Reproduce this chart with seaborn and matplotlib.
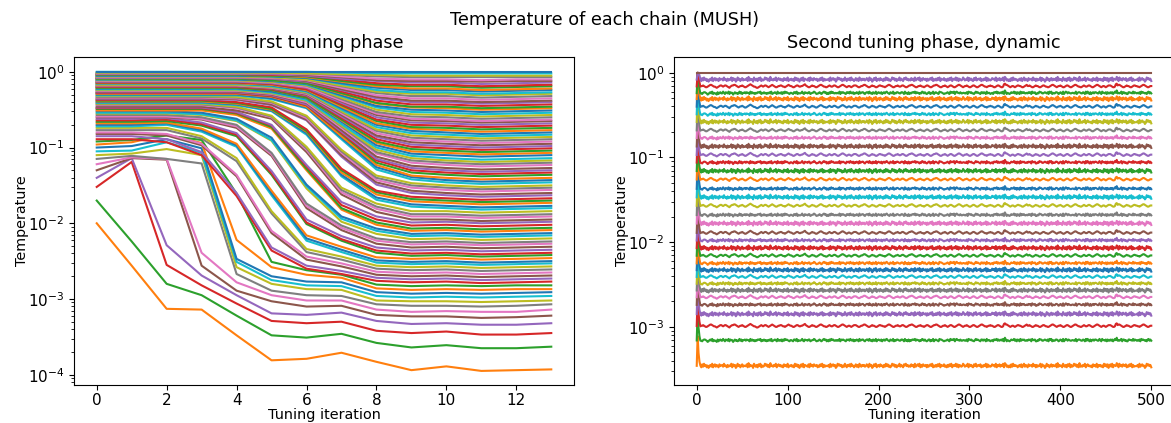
import matplotlib
matplotlib.use("Agg")
import matplotlib.pyplot as plt
import numpy as np
import pandas as pd
import seaborn as sns

# ---------------- data: first tuning phase (log10 temperature, iterations 0..13) ----------------
phase1_iterations = list(range(14))
phase1_xticks = [0, 2, 4, 6, 8, 10, 12]

phase1_chains_01_12 = [
    [-2.00, -2.56, -3.13, -3.14, -3.48, -3.81, -3.79, -3.71, -3.83, -3.94, -3.89, -3.95, -3.94, -3.93],
    [-1.70, -2.24, -2.80, -2.95, -3.22, -3.48, -3.51, -3.46, -3.58, -3.64, -3.61, -3.65, -3.65, -3.63],
    [-1.52, -1.19, -2.55, -2.82, -3.06, -3.29, -3.32, -3.30, -3.42, -3.45, -3.43, -3.47, -3.47, -3.45],
    [-1.40, -1.14, -2.29, -2.69, -2.95, -3.19, -3.21, -3.18, -3.29, -3.33, -3.32, -3.34, -3.34, -3.32],
    [-1.30, -1.14, -1.16, -2.56, -2.89, -3.03, -3.10, -3.09, -3.21, -3.23, -3.23, -3.25, -3.24, -3.22],
    [-1.22, -1.13, -1.15, -2.39, -2.78, -2.95, -3.02, -3.02, -3.14, -3.17, -3.16, -3.17, -3.17, -3.14],
    [-1.15, -1.11, -1.15, -1.21, -2.67, -2.89, -2.95, -2.96, -3.07, -3.09, -3.09, -3.10, -3.09, -3.07],
    [-1.10, -1.08, -1.02, -1.10, -2.58, -2.80, -2.87, -2.88, -3.02, -3.03, -3.03, -3.04, -3.03, -3.02],
    [-1.05, -1.04, -0.93, -1.07, -2.51, -2.75, -2.82, -2.83, -2.96, -2.98, -2.97, -2.98, -2.97, -2.96],
    [-1.00, -0.98, -0.89, -1.01, -2.47, -2.70, -2.77, -2.78, -2.91, -2.93, -2.92, -2.93, -2.92, -2.91],
    [-0.96, -0.93, -0.83, -0.94, -2.22, -2.58, -2.68, -2.72, -2.86, -2.88, -2.87, -2.88, -2.87, -2.87],
    [-0.92, -0.90, -0.84, -0.90, -1.61, -2.51, -2.62, -2.68, -2.81, -2.83, -2.82, -2.83, -2.82, -2.82],
]

phase1_chains_13_30 = [
    [-0.89, -0.89, -0.93, -1.10, -1.64, -2.36, -2.60, -2.67, -2.76, -2.78, -2.77, -2.79, -2.78, -2.77],
    [-0.85, -0.85, -0.89, -1.06, -1.60, -2.32, -2.56, -2.63, -2.72, -2.74, -2.73, -2.75, -2.74, -2.73],
    [-0.82, -0.82, -0.84, -0.97, -1.38, -2.13, -2.48, -2.57, -2.68, -2.70, -2.69, -2.71, -2.70, -2.69],
    [-0.80, -0.80, -0.82, -0.95, -1.36, -2.10, -2.44, -2.53, -2.64, -2.66, -2.65, -2.67, -2.66, -2.65],
    [-0.77, -0.77, -0.77, -0.88, -1.18, -1.87, -2.38, -2.48, -2.60, -2.62, -2.61, -2.63, -2.62, -2.61],
    [-0.74, -0.74, -0.74, -0.85, -1.14, -1.84, -2.34, -2.44, -2.56, -2.58, -2.57, -2.59, -2.58, -2.57],
    [-0.72, -0.72, -0.70, -0.79, -0.99, -1.63, -2.23, -2.38, -2.52, -2.54, -2.53, -2.55, -2.54, -2.53],
    [-0.70, -0.70, -0.68, -0.77, -0.97, -1.60, -2.20, -2.35, -2.49, -2.51, -2.50, -2.52, -2.51, -2.50],
    [-0.68, -0.68, -0.67, -0.75, -0.95, -1.57, -2.16, -2.31, -2.45, -2.47, -2.46, -2.48, -2.47, -2.46],
    [-0.66, -0.66, -0.65, -0.71, -0.85, -1.36, -2.01, -2.23, -2.39, -2.43, -2.42, -2.44, -2.43, -2.42],
    [-0.64, -0.64, -0.63, -0.69, -0.83, -1.34, -1.99, -2.21, -2.36, -2.40, -2.39, -2.41, -2.40, -2.39],
    [-0.62, -0.62, -0.61, -0.67, -0.81, -1.31, -1.95, -2.17, -2.32, -2.36, -2.35, -2.37, -2.36, -2.35],
    [-0.60, -0.60, -0.60, -0.63, -0.74, -1.11, -1.80, -2.09, -2.27, -2.32, -2.31, -2.33, -2.32, -2.31],
    [-0.59, -0.59, -0.59, -0.62, -0.72, -1.09, -1.77, -2.06, -2.23, -2.28, -2.27, -2.29, -2.28, -2.27],
    [-0.57, -0.57, -0.57, -0.60, -0.70, -1.07, -1.74, -2.03, -2.20, -2.25, -2.24, -2.26, -2.25, -2.24],
    [-0.55, -0.55, -0.55, -0.57, -0.65, -0.91, -1.54, -1.98, -2.14, -2.21, -2.20, -2.22, -2.21, -2.20],
    [-0.54, -0.54, -0.54, -0.56, -0.64, -0.90, -1.51, -1.94, -2.10, -2.17, -2.16, -2.18, -2.17, -2.16],
    [-0.52, -0.52, -0.52, -0.54, -0.62, -0.87, -1.49, -1.91, -2.07, -2.14, -2.13, -2.15, -2.14, -2.13],
]

phase1_chains_31_48 = [
    [-0.51, -0.51, -0.51, -0.51, -0.57, -0.75, -1.30, -1.82, -2.02, -2.10, -2.09, -2.11, -2.10, -2.09],
    [-0.49, -0.49, -0.49, -0.49, -0.55, -0.73, -1.28, -1.80, -1.99, -2.07, -2.06, -2.08, -2.07, -2.06],
    [-0.48, -0.48, -0.48, -0.48, -0.54, -0.71, -1.25, -1.76, -1.95, -2.03, -2.02, -2.04, -2.03, -2.02],
    [-0.47, -0.47, -0.47, -0.47, -0.53, -0.70, -1.23, -1.72, -1.91, -1.99, -1.98, -2.00, -1.99, -1.98],
    [-0.46, -0.46, -0.46, -0.46, -0.51, -0.62, -1.06, -1.62, -1.85, -1.95, -1.95, -1.97, -1.96, -1.95],
    [-0.44, -0.44, -0.44, -0.44, -0.48, -0.60, -1.03, -1.59, -1.81, -1.91, -1.91, -1.93, -1.92, -1.91],
    [-0.43, -0.43, -0.43, -0.43, -0.47, -0.59, -1.01, -1.56, -1.78, -1.88, -1.88, -1.90, -1.89, -1.88],
    [-0.42, -0.42, -0.42, -0.42, -0.46, -0.58, -0.99, -1.53, -1.74, -1.84, -1.84, -1.86, -1.85, -1.84],
    [-0.41, -0.41, -0.41, -0.41, -0.44, -0.52, -0.83, -1.38, -1.69, -1.78, -1.80, -1.82, -1.81, -1.80],
    [-0.40, -0.40, -0.40, -0.40, -0.43, -0.51, -0.81, -1.36, -1.66, -1.75, -1.77, -1.79, -1.78, -1.77],
    [-0.39, -0.39, -0.39, -0.39, -0.42, -0.50, -0.79, -1.33, -1.62, -1.71, -1.73, -1.75, -1.74, -1.73],
    [-0.38, -0.38, -0.38, -0.38, -0.41, -0.49, -0.78, -1.30, -1.59, -1.68, -1.70, -1.72, -1.71, -1.70],
    [-0.37, -0.37, -0.37, -0.37, -0.40, -0.47, -0.76, -1.28, -1.57, -1.65, -1.67, -1.69, -1.68, -1.67],
    [-0.36, -0.36, -0.36, -0.36, -0.37, -0.44, -0.64, -1.12, -1.49, -1.60, -1.63, -1.65, -1.64, -1.63],
    [-0.35, -0.35, -0.35, -0.35, -0.36, -0.43, -0.63, -1.10, -1.46, -1.57, -1.60, -1.62, -1.61, -1.60],
    [-0.34, -0.34, -0.34, -0.34, -0.35, -0.41, -0.61, -1.07, -1.43, -1.53, -1.56, -1.58, -1.57, -1.56],
    [-0.33, -0.33, -0.33, -0.33, -0.34, -0.40, -0.59, -1.05, -1.40, -1.50, -1.53, -1.55, -1.54, -1.53],
    [-0.32, -0.32, -0.32, -0.32, -0.33, -0.39, -0.58, -1.03, -1.37, -1.47, -1.50, -1.52, -1.51, -1.50],
]

phase1_chains_49_100 = [
    [-0.31, -0.31, -0.31, -0.31, -0.31, -0.36, -0.48, -0.89, -1.29, -1.42, -1.46, -1.48, -1.47, -1.46],
    [-0.30, -0.30, -0.30, -0.30, -0.30, -0.35, -0.47, -0.87, -1.26, -1.39, -1.43, -1.45, -1.44, -1.43],
    [-0.29, -0.29, -0.29, -0.29, -0.29, -0.33, -0.46, -0.85, -1.23, -1.37, -1.40, -1.42, -1.41, -1.40],
    [-0.28, -0.28, -0.28, -0.28, -0.28, -0.32, -0.44, -0.82, -1.20, -1.33, -1.36, -1.38, -1.37, -1.36],
    [-0.28, -0.28, -0.28, -0.28, -0.28, -0.32, -0.44, -0.81, -1.17, -1.30, -1.33, -1.35, -1.34, -1.33],
    [-0.27, -0.27, -0.27, -0.27, -0.27, -0.31, -0.43, -0.79, -1.15, -1.27, -1.30, -1.32, -1.31, -1.30],
    [-0.26, -0.26, -0.26, -0.26, -0.26, -0.30, -0.41, -0.77, -1.12, -1.24, -1.27, -1.29, -1.28, -1.27],
    [-0.25, -0.25, -0.25, -0.25, -0.25, -0.29, -0.40, -0.74, -1.08, -1.20, -1.23, -1.25, -1.24, -1.23],
    [-0.24, -0.24, -0.24, -0.24, -0.24, -0.28, -0.38, -0.72, -1.06, -1.17, -1.20, -1.22, -1.21, -1.20],
    [-0.24, -0.24, -0.24, -0.24, -0.24, -0.28, -0.38, -0.71, -1.03, -1.14, -1.17, -1.19, -1.18, -1.17],
    [-0.23, -0.23, -0.23, -0.23, -0.23, -0.27, -0.37, -0.69, -1.00, -1.11, -1.14, -1.16, -1.15, -1.14],
    [-0.22, -0.22, -0.22, -0.22, -0.22, -0.26, -0.35, -0.66, -0.97, -1.08, -1.10, -1.12, -1.11, -1.10],
    [-0.21, -0.21, -0.21, -0.21, -0.21, -0.24, -0.34, -0.64, -0.94, -1.05, -1.07, -1.09, -1.08, -1.07],
    [-0.21, -0.21, -0.21, -0.21, -0.21, -0.24, -0.34, -0.63, -0.92, -1.02, -1.04, -1.06, -1.05, -1.04],
    [-0.20, -0.20, -0.20, -0.20, -0.20, -0.23, -0.32, -0.61, -0.89, -0.99, -1.01, -1.03, -1.02, -1.01],
    [-0.19, -0.19, -0.19, -0.19, -0.19, -0.22, -0.31, -0.59, -0.86, -0.96, -0.98, -1.00, -0.99, -0.98],
    [-0.19, -0.19, -0.19, -0.19, -0.19, -0.22, -0.30, -0.57, -0.84, -0.93, -0.95, -0.97, -0.96, -0.95],
    [-0.18, -0.18, -0.18, -0.18, -0.18, -0.21, -0.29, -0.55, -0.81, -0.90, -0.92, -0.94, -0.93, -0.92],
    [-0.17, -0.17, -0.17, -0.17, -0.17, -0.20, -0.28, -0.53, -0.78, -0.87, -0.89, -0.91, -0.90, -0.89],
    [-0.17, -0.17, -0.17, -0.17, -0.17, -0.20, -0.27, -0.52, -0.76, -0.84, -0.86, -0.88, -0.87, -0.86],
    [-0.16, -0.16, -0.16, -0.16, -0.16, -0.19, -0.26, -0.50, -0.73, -0.81, -0.83, -0.85, -0.84, -0.83],
    [-0.15, -0.15, -0.15, -0.15, -0.15, -0.18, -0.25, -0.48, -0.70, -0.78, -0.80, -0.82, -0.81, -0.80],
    [-0.15, -0.15, -0.15, -0.15, -0.15, -0.17, -0.24, -0.46, -0.68, -0.75, -0.77, -0.79, -0.78, -0.77],
    [-0.14, -0.14, -0.14, -0.14, -0.14, -0.16, -0.23, -0.44, -0.65, -0.73, -0.74, -0.76, -0.75, -0.74],
    [-0.14, -0.14, -0.14, -0.14, -0.14, -0.16, -0.23, -0.43, -0.63, -0.70, -0.71, -0.73, -0.72, -0.71],
    [-0.13, -0.13, -0.13, -0.13, -0.13, -0.15, -0.21, -0.41, -0.60, -0.67, -0.68, -0.70, -0.69, -0.68],
    [-0.12, -0.12, -0.12, -0.12, -0.12, -0.14, -0.20, -0.39, -0.57, -0.64, -0.65, -0.67, -0.66, -0.65],
    [-0.12, -0.12, -0.12, -0.12, -0.12, -0.14, -0.20, -0.38, -0.55, -0.62, -0.63, -0.65, -0.64, -0.63],
    [-0.11, -0.11, -0.11, -0.11, -0.11, -0.13, -0.18, -0.36, -0.53, -0.59, -0.60, -0.62, -0.61, -0.60],
    [-0.11, -0.11, -0.11, -0.11, -0.11, -0.13, -0.18, -0.34, -0.50, -0.56, -0.57, -0.59, -0.58, -0.57],
    [-0.10, -0.10, -0.10, -0.10, -0.10, -0.12, -0.17, -0.32, -0.47, -0.53, -0.54, -0.56, -0.55, -0.54],
    [-0.10, -0.10, -0.10, -0.10, -0.10, -0.12, -0.16, -0.31, -0.45, -0.50, -0.51, -0.53, -0.52, -0.51],
    [-0.09, -0.09, -0.09, -0.09, -0.09, -0.11, -0.15, -0.29, -0.42, -0.47, -0.48, -0.50, -0.49, -0.48],
    [-0.09, -0.09, -0.09, -0.09, -0.09, -0.11, -0.15, -0.28, -0.41, -0.46, -0.46, -0.48, -0.47, -0.46],
    [-0.08, -0.08, -0.08, -0.08, -0.08, -0.09, -0.13, -0.26, -0.38, -0.43, -0.43, -0.45, -0.44, -0.43],
    [-0.08, -0.08, -0.08, -0.08, -0.08, -0.09, -0.13, -0.24, -0.35, -0.40, -0.40, -0.42, -0.41, -0.40],
    [-0.07, -0.07, -0.07, -0.07, -0.07, -0.08, -0.12, -0.23, -0.33, -0.38, -0.38, -0.40, -0.39, -0.38],
    [-0.07, -0.07, -0.07, -0.07, -0.07, -0.08, -0.11, -0.21, -0.31, -0.35, -0.35, -0.37, -0.36, -0.35],
    [-0.06, -0.06, -0.06, -0.06, -0.06, -0.07, -0.10, -0.19, -0.28, -0.32, -0.32, -0.34, -0.33, -0.32],
    [-0.06, -0.06, -0.06, -0.06, -0.06, -0.07, -0.10, -0.18, -0.26, -0.29, -0.29, -0.31, -0.30, -0.29],
    [-0.05, -0.05, -0.05, -0.05, -0.05, -0.06, -0.08, -0.16, -0.24, -0.27, -0.27, -0.29, -0.28, -0.27],
    [-0.05, -0.05, -0.05, -0.05, -0.05, -0.06, -0.08, -0.15, -0.21, -0.24, -0.24, -0.26, -0.25, -0.24],
    [-0.04, -0.04, -0.04, -0.04, -0.04, -0.05, -0.07, -0.13, -0.19, -0.22, -0.22, -0.24, -0.23, -0.22],
    [-0.04, -0.04, -0.04, -0.04, -0.04, -0.05, -0.06, -0.12, -0.17, -0.19, -0.19, -0.21, -0.20, -0.19],
    [-0.03, -0.03, -0.03, -0.03, -0.03, -0.04, -0.05, -0.10, -0.15, -0.17, -0.17, -0.19, -0.18, -0.17],
    [-0.03, -0.03, -0.03, -0.03, -0.03, -0.03, -0.05, -0.09, -0.12, -0.14, -0.14, -0.16, -0.15, -0.14],
    [-0.02, -0.02, -0.02, -0.02, -0.02, -0.02, -0.04, -0.07, -0.11, -0.12, -0.12, -0.13, -0.12, -0.12],
    [-0.02, -0.02, -0.02, -0.02, -0.02, -0.02, -0.03, -0.06, -0.09, -0.10, -0.10, -0.11, -0.10, -0.10],
    [-0.01, -0.01, -0.01, -0.01, -0.01, -0.01, -0.02, -0.04, -0.06, -0.07, -0.07, -0.07, -0.07, -0.07],
    [-0.01, -0.01, -0.01, -0.01, -0.01, -0.01, -0.02, -0.03, -0.04, -0.05, -0.05, -0.05, -0.05, -0.05],
    [0.00, 0.00, 0.00, 0.00, 0.00, 0.00, 0.00, -0.01, -0.02, -0.02, -0.02, -0.02, -0.02, -0.02],
    [0.00, 0.00, 0.00, 0.00, 0.00, 0.00, 0.00, 0.00, 0.00, 0.00, 0.00, 0.00, 0.00, 0.00],
]

# ---------------- data: second tuning phase (dynamic), 500 iterations ----------------
phase2_last_iteration = 500
# mean log10 temperature of chains 1..34 (bottom to top); chain 35 sits at 1.0
phase2_levels = [-3.46, -3.16, -2.99, -2.85, -2.74, -2.65, -2.57, -2.49, -2.41, -2.33,
                 -2.25, -2.16, -2.07, -1.98, -1.89, -1.78, -1.68, -1.57, -1.47, -1.37,
                 -1.26, -1.16, -1.06, -0.97, -0.87, -0.77, -0.68, -0.58, -0.49, -0.40,
                 -0.31, -0.24, -0.16, -0.08]
phase2_top_level = 0.0
# start-up jump (log10 offset) for iterations 0..3
phase2_start_offsets = [0.0, 0.35, 0.15, 0.05]
# fluctuation digits read along the traces from iteration 4 on (4.5 = on the level)
phase2_noise_step = 0.007
phase2_noise_a = """
4556543345 6776544323 4566545665 4324566776 5434556543 3456787654 4322345654 5665434567 6543345566 5443456765
5433456654 4556786543 3456554334 5677654433 4565445665 4334567765 4345543456 6654334556 7765433456 5543345665
5443456776 5433455654 4566543345 6677654334 5565443456 6543345667 7654334556 5434566543 3456776543 4556543345
6654334567 7654434556 5543345665 4334897765 4345543456 6554334567 5565433456 5543345665 4433456776 5434556543
3456654334 5677654433 4565445665 4334567765 4345543456 6654334896 7765433456 5543345665 5443456776 5433455654
"""
phase2_noise_b = """
5273846251 4638257364 2745638452 6354827461 3846257354 4729364518 5362748253 4857362945 3648257463 5274638254
6352847361 4738265437 2846375462 5374826354 4628357461 3857462538 5264738452 4736285364 6347528461 3748256374
5263847352 4857362548 3642758463 5374628357 4826375462 6357482536 3748265473 5263748256 4837265348 6354827463
2748356472 5364827353 4756382647 3648297352 5273846452 4637258364 2745638462 6354827451 3846257364 4729364528
5362748263 4857362935 3648257453 5274638264 6352847371 4738265497 2846375472 5374826344 4628357451 3857462548
"""
phase2_noise_c = """
4435665423 5647354426 3564475365 4736552464 5347463556 4655374645 3546657354 6453546473 4565374546 3647565435
5436647354 4574365546 6345576434 4653467563 5364756445 4547365654 3656475463 5465374566 4356647453 6447356546
3564675436 5473546654 4665374536 3546657465 5354764643 4663547356 5437665434 4564375657 3675546445 5446376564
4357565436 6465374553 4536657464 5647396354 3465574636 5374656445 4656375563 3547664456 5463757354 4665346537
3576465445 5447356654 4653747536 3564665447 5375546364 4646357594 5457366453 3665547465 4546375654 5367464536
"""
phase2_xticks = [0, 100, 200, 300, 400, 500]

# ---------------- build long tables ----------------
tab10 = sns.color_palette("tab10", 10)

phase1_rows = phase1_chains_01_12 + phase1_chains_13_30 + phase1_chains_31_48 + phase1_chains_49_100
recs1 = []
for idx, logs in enumerate(phase1_rows):
    chain = idx + 1
    for it, lv in zip(phase1_iterations, logs):
        recs1.append((chain, it, 10.0 ** lv))
df1 = pd.DataFrame(recs1, columns=["chain", "iteration", "temperature"])

noise_digits = ["".join(s.split()) for s in (phase2_noise_a, phase2_noise_b, phase2_noise_c)]
n_points = phase2_last_iteration + 1
recs2 = []
for idx, level in enumerate(phase2_levels):
    chain = idx + 1
    digits = noise_digits[chain % 3]
    logs = [min(level + o, phase2_top_level) for o in phase2_start_offsets]
    logs += [level + (int(d) - 4.5) * phase2_noise_step for d in digits]
    logs = logs[:n_points]
    for it, lv in enumerate(logs):
        recs2.append((chain, it, 10.0 ** lv))
top_chain = len(phase2_levels) + 1
for it in range(n_points):
    recs2.append((top_chain, it, 10.0 ** phase2_top_level))
df2 = pd.DataFrame(recs2, columns=["chain", "iteration", "temperature"])

pal1 = {c: tab10[c % 10] for c in df1["chain"].unique()}
pal2 = {c: tab10[c % 10] for c in df2["chain"].unique()}

# ---------------- figure ----------------
W, H = 1171, 423
fig = plt.figure(figsize=(W / 100, H / 100), dpi=100)
ax1 = fig.add_axes([74 / W, 1 - 385.3 / H, 500 / W, 328.6 / H])
ax2 = fig.add_axes([674 / W, 1 - 385.3 / H, 500 / W, 328.6 / H])

sns.lineplot(data=df1, x="iteration", y="temperature", hue="chain", palette=pal1,
             estimator=None, legend=False, linewidth=1.5, ax=ax1)
sns.lineplot(data=df2, x="iteration", y="temperature", hue="chain", palette=pal2,
             estimator=None, legend=False, linewidth=1.5, ax=ax2)

tick_fs = 11
label_fs = 10.4
title_fs = 12.7

for ax in (ax1, ax2):
    ax.set_yscale("log")
    ax.tick_params(axis="both", which="major", labelsize=tick_fs)
    ax.tick_params(axis="x", which="major", pad=2)
    ax.set_xlabel("Tuning iteration", fontsize=label_fs, labelpad=0)
    ax.set_ylabel("Temperature", fontsize=label_fs, labelpad=-1)

ax1.set_xlim(-0.65, 13.65)
ax1.set_ylim(10 ** -4.14, 10 ** 0.20)
ax1.set_xticks(phase1_xticks)
ax1.set_title("First tuning phase", fontsize=title_fs)

ax2.set_xlim(-25, 525)
ax2.set_ylim(10 ** -3.69, 10 ** 0.19)
ax2.set_xticks(phase2_xticks)
ax2.set_title("Second tuning phase, dynamic", fontsize=title_fs)

fig.suptitle("Temperature of each chain (MUSH)", x=604 / W, y=1 - 11 / H, va="top",
             fontsize=title_fs)

fig.savefig("out.png", dpi=100)
